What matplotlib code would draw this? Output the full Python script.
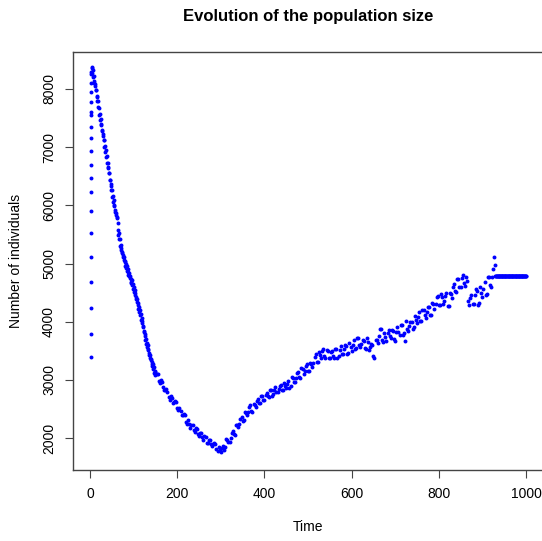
import numpy as np
import matplotlib
matplotlib.use("Agg")
import matplotlib.pyplot as plt

plt.rcParams['font.family'] = ['Liberation Sans', 'DejaVu Sans']

# Start-up phase: population jumps up within the first couple of time units
early_time = [1.5, 1.5, 1.5, 1.5, 1.5, 1.5, 1.5, 1.5, 1.5, 1.5,
              1.5, 1.5, 1.5, 1.5, 1.5, 1.5, 2.0, 2.5, 3.0, 3.5, 3.0]
early_size = [3390, 3790, 4235, 4680, 5110, 5520, 5900, 6230, 6470, 6690,
              6930, 7160, 7350, 7550, 7600, 7780, 7950, 8100, 8250, 8360, 8300]

# Steep decline, read every time unit (t = 4 ... 150)
steep_time = list(range(4, 151))
steep_size = [
    8380, 8280, 8330, 8200, 8230, 8110, 8140, 8055, 8080, 7975,   # 4-13
    7980, 7865, 7880, 7785, 7800, 7685, 7680, 7560, 7565, 7460,   # 14-23
    7490, 7385, 7390, 7280, 7295, 7200, 7225, 7120, 7120, 7005,   # 24-33
    7020, 6920, 6945, 6835, 6840, 6725, 6735, 6640, 6660, 6550,   # 34-43
    6550, 6430, 6440, 6340, 6360, 6255, 6255, 6140, 6155, 6055,   # 44-53
    6085, 5985, 6000, 5890, 5915, 5830, 5865, 5775, 5795, 5695,   # 54-63
    5580, 5490, 5520, 5415, 5420, 5305, 5320, 5230, 5265, 5175,   # 64-73
    5200, 5105, 5140, 5065, 5110, 5025, 5050, 4955, 4990, 4915,   # 74-83
    4960, 4875, 4900, 4810, 4850, 4780, 4830, 4750, 4780, 4690,   # 84-93
    4730, 4660, 4710, 4625, 4650, 4560, 4590, 4510, 4550, 4465,   # 94-103
    4485, 4390, 4420, 4342, 4385, 4295, 4315, 4215, 4245, 4165,   # 104-113
    4205, 4115, 4135, 4035, 4065, 3980, 4010, 3915, 3925, 3815,   # 114-123
    3840, 3750, 3781, 3690, 3710, 3610, 3640, 3560, 3600, 3510,   # 124-133
    3530, 3430, 3460, 3380, 3425, 3340, 3365, 3270, 3305, 3230,   # 134-143
    3275, 3190, 3215, 3120, 3155, 3082, 3130,                     # 144-150
]

# Rest of the run, read every 5 time units (t = 155 ... 925)
main_time = list(range(155, 930, 5))
main_size = [
    3100, 2950, 2960, 2820, 2840, 2700, 2730, 2610, 2640, 2520,   # 155-200
    2520, 2390, 2410, 2270, 2310, 2180, 2220, 2100, 2150, 2040,   # 205-250
    2090, 1970, 2020, 1920, 1970, 1870, 1920, 1810, 1840, 1760,   # 255-300
    1870, 1840, 1970, 1930, 2090, 2070, 2220, 2190, 2320, 2290,   # 305-350
    2440, 2400, 2530, 2470, 2590, 2540, 2670, 2610, 2730, 2660,   # 355-400
    2770, 2700, 2820, 2750, 2870, 2790, 2900, 2820, 2940, 2860,   # 405-450
    2980, 2900, 3030, 2970, 3120, 3050, 3200, 3100, 3240, 3150,   # 455-500
    3290, 3220, 3390, 3310, 3480, 3380, 3530, 3380, 3500, 3370,   # 505-550
    3500, 3380, 3530, 3410, 3580, 3440, 3600, 3450, 3630, 3500,   # 555-600
    3680, 3550, 3720, 3560, 3680, 3540, 3720, 3520, 3620, 3410,   # 605-650
    3680, 3640, 3880, 3690, 3800, 3660, 3860, 3720, 3840, 3660,   # 655-700
    3900, 3770, 3940, 3800, 4020, 3840, 3990, 3880, 4090, 3970,   # 705-750
    4160, 4010, 4200, 4070, 4260, 4120, 4320, 4220, 4420, 4290,   # 755-800
    4480, 4300, 4450, 4270, 4500, 4410, 4650, 4510, 4730, 4590,   # 805-850
    4800, 4620, 4700, 4280, 4460, 4300, 4560, 4290, 4590, 4430,   # 855-900
    4680, 4480, 4760, 4600, 4900,                                 # 905-925
]

# Second reading of the band, between the above (t = 152.5 ... 922.5)
mid_time = list(np.arange(152.5, 925, 5))
mid_size = [
    3097, 2983, 3004, 2876, 2825, 2795, 2654, 2691, 2618, 2617,   # 152.5-197.5
    2480, 2469, 2393, 2389, 2241, 2249, 2228, 2139, 2167, 2067,   # 202.5-247.5
    2086, 2016, 2037, 1921, 1959, 1892, 1902, 1900, 1783, 1795,   # 252.5-297.5
    1820, 1795, 1975, 1930, 2005, 2125, 2060, 2230, 2240, 2360,   # 302.5-347.5
    2310, 2435, 2450, 2565, 2455, 2565, 2640, 2605, 2725, 2650,   # 352.5-397.5
    2740, 2715, 2820, 2715, 2830, 2785, 2850, 2910, 2820, 2900,   # 402.5-447.5
    2932, 2868, 3044, 2971, 3040, 3140, 3024, 3186, 3158, 3267,   # 452.5-497.5
    3155, 3281, 3292, 3441, 3299, 3432, 3502, 3411, 3513, 3383,   # 502.5-547.5
    3474, 3409, 3528, 3379, 3516, 3453, 3528, 3585, 3457, 3560,   # 552.5-597.5
    3598, 3537, 3726, 3604, 3610, 3675, 3526, 3659, 3557, 3598,   # 602.5-647.5
    3380, 3686, 3747, 3871, 3649, 3737, 3812, 3751, 3858, 3698,   # 652.5-697.5
    3819, 3814, 3938, 3779, 3660, 3878, 3928, 4000, 3907, 4030,   # 702.5-747.5
    4079, 4006, 4208, 4107, 4165, 4260, 4108, 4312, 4306, 4439,   # 752.5-797.5
    4295, 4426, 4352, 4496, 4274, 4469, 4602, 4526, 4728, 4588,   # 802.5-847.5
    4755, 4665, 4770, 4360, 4415, 4305, 4455, 4525, 4315, 4500,   # 852.5-897.5
    4565, 4460, 4765, 4635, 4775,                                 # 902.5-922.5
]

# Spike right before the population freezes
spike_time = [927, 928]
spike_size = [5117, 4980]

# Constant population after t = 930
flat_time = list(range(930, 1001))
flat_level = 4790

fig = plt.figure(figsize=(5.42, 5.41), dpi=100)
ax = fig.add_axes([0.134, 0.1312, 0.8686, 0.7727])

pts = dict(c='blue', s=8, linewidths=0, marker='o')
ax.scatter(early_time, early_size, **pts)
ax.scatter(steep_time, steep_size, **pts)
ax.scatter(main_time, main_size, **pts)
ax.scatter(mid_time, mid_size, **pts)
ax.scatter(spike_time, spike_size, **pts)
ax.scatter(flat_time, [flat_level] * len(flat_time), **pts)

ax.set_xlim(-40, 1040)
ax.set_ylim(1450, 8636)
ax.set_xticks([0, 200, 400, 600, 800, 1000])
ax.set_yticks([2000, 3000, 4000, 5000, 6000, 7000, 8000])
ax.tick_params(direction='out', length=6, width=0.8, color='#444444',
               labelsize=10, pad=6)
for lab in ax.get_yticklabels():
    lab.set_rotation(90)
    lab.set_va('center')
for sp in ax.spines.values():
    sp.set_color('#444444')
    sp.set_linewidth(1.0)

ax.set_xlabel("Time", fontsize=10, labelpad=14)
ax.set_ylabel("Number of individuals", fontsize=10, labelpad=14)
ax.set_title("Evolution of the population size", fontsize=12,
             fontweight='bold', pad=22)

fig.savefig("out.png", dpi=100)
